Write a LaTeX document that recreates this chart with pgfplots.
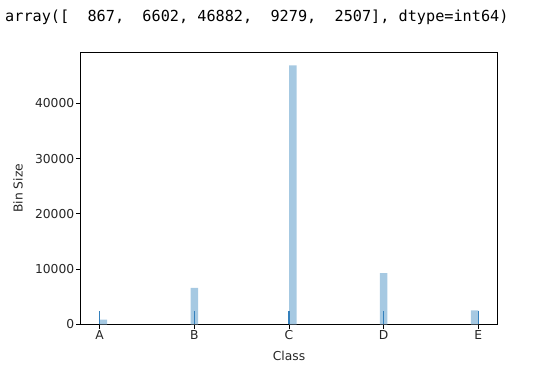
\documentclass[border=0pt]{standalone}
\usepackage{fontspec}
\setmainfont{DejaVu Sans}
\newfontfamily\monofont{DejaVu Sans Mono}
\usepackage{pgfplots}
\pgfplotsset{compat=1.18}
\definecolor{barblue}{RGB}{166,201,226}
\definecolor{rugblue}{RGB}{52,128,188}
\definecolor{txt}{RGB}{38,38,38}
\begin{document}
\begin{tikzpicture}[x=1pt,y=1pt]
\path[use as bounding box] (0,0) rectangle (545,376);
\node[anchor=base west, inner sep=0pt, font=\monofont\fontsize{15.2}{18}\selectfont, text=black] at (5,355) {array([~~867,~~6602, 46882,~~9279,~~2507], dtype=int64)};
\begin{axis}[
  at={(80.7pt,51.7pt)}, anchor=south west,
  scale only axis, width=416.6pt, height=272pt,
  xmin=-0.2, xmax=4.2, ymin=0, ymax=49226,
  xtick={0,1,2,3,4}, xticklabels={A,B,C,D,E},
  ytick={0,10000,20000,30000,40000},
  scaled y ticks=false,
  /pgf/number format/assume math mode=true,
  /pgf/number format/1000 sep={},
  tick align=outside, tick pos=left,
  major tick length=4.3pt,
  tick style={black, line width=1pt},
  axis line style={black, line width=1pt},
  ticklabel style={font=\fontsize{12.3}{14}\selectfont, text=txt},
  xticklabel style={inner sep=2pt},
  yticklabel style={inner sep=2pt},
  xlabel={Class}, ylabel={Bin Size},
  every axis x label/.style={at={(axis description cs:0.5,-0.1165)}, anchor=center, font=\fontsize{12.3}{14}\selectfont, text=txt},
  every axis y label/.style={at={(axis description cs:-0.1505,0.5)}, rotate=90, anchor=center, font=\fontsize{12.3}{14}\selectfont, text=txt},
]
\addplot[ybar, bar width=0.08, bar shift=0pt, fill=barblue, draw=none] coordinates {(0.04,867) (1.0,6602) (2.04,46882) (3.0,9279) (3.96,2507)};
\addplot[ycomb, rugblue, line width=1.3pt, mark=none] coordinates {(0,2461) (1,2461) (2,2461) (3,2461) (4,2461)};
\end{axis}
\end{tikzpicture}
\end{document}
